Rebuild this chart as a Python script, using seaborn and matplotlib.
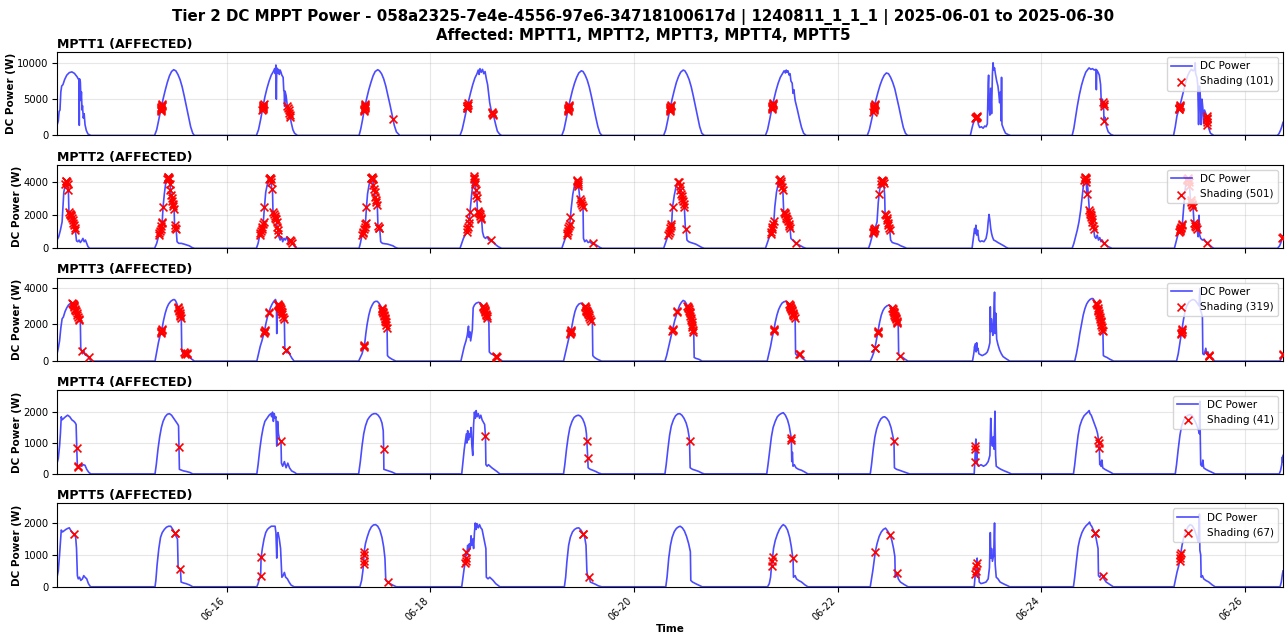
import pandas as pd
import numpy as np
import seaborn as sns
import matplotlib
matplotlib.use("Agg")
import matplotlib.pyplot as plt
import matplotlib.dates as mdates

# channel names, legend counts and titles
channels = ["MPTT1", "MPTT2", "MPTT3", "MPTT4", "MPTT5"]
shading_counts = [101, 501, 319, 41, 67]
title_line1 = "Tier 2 DC MPPT Power - 058a2325-7e4e-4556-97e6-34718100617d | 1240811_1_1_1 | 2025-06-01 to 2025-06-30"
title_line2 = "Affected: MPTT1, MPTT2, MPTT3, MPTT4, MPTT5"

# DC power knots per day: (hour of day, watts)
mptt1_power = {
    "06-14": [(8.0,1400),(8.3,2000),(8.5,3300),(8.7,3500),(8.9,6000),(9.1,6800),(9.4,7000),(9.8,7700),(10.3,8300),(10.9,8650),(11.5,8750),(12.1,8550),(12.7,8100),(13.1,7700),(13.2,7600),(13.25,1400),(13.3,7800),(13.5,7400),(13.65,4800),(13.75,6000),(13.9,3500),(14.0,4100),(14.2,2400),(14.4,3000),(14.6,1500),(14.9,700),(15.3,200),(16.0,0)],
    "06-15": [(7.0,0),(7.5,800),(8.0,2200),(8.5,3700),(9.0,5000),(9.5,6200),(10.0,7300),(10.5,8200),(11.0,8800),(11.5,9050),(12.0,8900),(12.5,8400),(13.0,7700),(13.5,6700),(14.0,5400),(14.5,4000),(15.0,2600),(15.5,1200),(16.0,300),(16.4,0)],
    "06-16": [(7.0,0),(7.5,800),(8.0,2200),(8.5,3800),(9.0,5300),(9.5,6500),(10.0,7500),(10.5,8300),(11.0,8800),(11.3,9200),(11.45,8500),(11.6,9700),(11.7,5000),(11.8,9300),(12.0,8600),(12.2,9100),(12.4,8400),(12.6,9000),(12.8,8700),(13.0,8300),(13.3,8000),(13.45,6200),(13.55,6000),(13.65,4000),(13.75,6100),(14.0,5500),(14.3,4000),(14.6,3500),(14.9,2800),(15.2,1800),(15.6,800),(16.0,300),(16.7,0)],
    "06-17": [(7.2,0),(7.6,900),(8.0,2100),(8.5,3800),(9.0,5100),(9.5,6300),(10.0,7300),(10.5,8200),(11.0,8800),(11.6,9050),(12.0,8900),(12.5,8500),(13.0,7800),(13.5,6800),(14.0,5500),(14.5,4200),(15.0,2800),(15.5,1400),(16.0,500),(16.8,0)],
    "06-18": [(7.0,0),(7.5,800),(8.0,2100),(8.5,3500),(9.0,4700),(9.5,5900),(10.0,7000),(10.5,7900),(11.0,8500),(11.3,9000),(11.5,8400),(11.7,9200),(12.0,8700),(12.3,9100),(12.6,8500),(12.9,8800),(13.2,7800),(13.5,7000),(13.8,5500),(14.0,4500),(14.3,3600),(14.6,3100),(15.0,2500),(15.4,1500),(15.8,600),(16.3,200),(16.8,0)],
    "06-19": [(7.0,0),(7.5,800),(8.0,2200),(8.5,3700),(9.0,5000),(9.5,6200),(10.0,7200),(10.5,8000),(11.0,8600),(11.6,8900),(12.0,8800),(12.5,8300),(13.0,7600),(13.5,6600),(14.0,5300),(14.5,3900),(15.0,2500),(15.5,1200),(16.0,300),(16.5,0)],
    "06-20": [(7.0,0),(7.5,800),(8.0,2200),(8.5,3700),(9.0,5000),(9.5,6200),(10.0,7300),(10.5,8100),(11.0,8700),(11.6,9000),(12.0,8900),(12.5,8400),(13.0,7700),(13.5,6700),(14.0,5400),(14.5,4000),(15.0,2600),(15.5,1200),(16.0,300),(16.6,0)],
    "06-21": [(7.0,0),(7.5,800),(8.0,2200),(8.5,3700),(9.0,5000),(9.5,6200),(10.0,7200),(10.5,8000),(11.0,8500),(11.4,8900),(11.7,8600),(11.9,9000),(12.1,8700),(12.3,8900),(12.6,8300),(12.8,8500),(13.0,7500),(13.3,7200),(13.5,5800),(13.7,6300),(14.0,4800),(14.5,3600),(15.0,2300),(15.5,1100),(16.0,300),(16.6,0)],
    "06-22": [(7.0,0),(7.5,800),(8.0,2100),(8.5,3500),(9.0,4800),(9.5,5900),(10.0,6900),(10.5,7700),(11.0,8300),(11.5,8600),(12.0,8500),(12.5,8000),(13.0,7300),(13.5,6400),(14.0,5100),(14.5,3800),(15.0,2400),(15.5,1100),(16.0,300),(16.5,0)],
    "06-23": [(7.3,0),(7.6,800),(7.9,1500),(8.2,2000),(8.5,2500),(8.8,2600),(9.0,2300),(9.2,1500),(9.5,1100),(9.9,1200),(10.3,1000),(10.7,1300),(11.0,1200),(11.3,1600),(11.5,7000),(11.6,8300),(11.7,4000),(11.9,2800),(12.1,6500),(12.3,3000),(12.5,8500),(12.65,10000),(12.8,9000),(13.0,9300),(13.2,8500),(13.5,7500),(13.8,6800),(14.0,5800),(14.2,4500),(14.4,6000),(14.55,2000),(14.65,8000),(14.75,1500),(15.2,800),(15.6,300),(16.3,100),(16.8,0)],
    "06-24": [(7.3,0),(7.7,1000),(8.1,2500),(8.5,4000),(9.0,5600),(9.5,6900),(10.0,7900),(10.5,8700),(11.0,9100),(11.3,9300),(11.7,9100),(12.1,9200),(12.5,9000),(12.9,9100),(13.0,6300),(13.1,9000),(13.4,8700),(13.7,8300),(14.0,7000),(14.2,4000),(14.4,5000),(14.6,4600),(14.7,4300),(14.8,2000),(15.0,2500),(15.4,1200),(15.8,500),(16.4,150),(17.1,0)],
    "06-25": [(7.2,0),(7.6,1200),(8.0,2700),(8.5,3700),(9.0,4800),(9.5,6000),(10.0,7200),(10.5,8200),(11.0,8800),(11.4,9100),(11.8,8900),(12.1,9000),(12.3,10000),(12.4,8500),(12.7,8000),(12.9,7000),(13.1,1500),(13.3,6800),(13.5,5500),(13.7,1500),(13.9,5000),(14.1,3800),(14.3,1600),(14.5,3500),(14.8,3000),(15.0,2700),(15.2,1500),(15.5,1000),(15.9,300),(16.7,0)],
    "06-26": [(7.6,0),(8.0,200),(8.4,700),(8.7,1200),(9.0,1800)],
}
mptt1_shading = {
    "06-15": [(8.4,3400),(8.45,3550),(8.5,3700),(8.55,3830),(8.6,3960),(8.65,4090),(8.7,4220),(8.75,4350)],
    "06-16": [(8.4,3500),(8.45,3650),(8.5,3800),(8.55,3950),(8.6,4100),(8.65,4250),(8.7,4400),(14.3,4000),(14.45,3750),(14.6,3500),(14.75,3150),(14.9,2800),(15.0,2500)],
    "06-17": [(8.35,3300),(8.4,3500),(8.45,3650),(8.5,3800),(8.55,3950),(8.6,4050),(8.65,4200),(8.7,4350),(15.2,2250)],
    "06-18": [(8.6,3750),(8.65,3850),(8.7,4000),(8.75,4100),(8.8,4250),(8.9,4450),(14.5,3250),(14.6,3100),(14.7,2950),(14.8,2800)],
    "06-19": [(8.4,3400),(8.45,3550),(8.5,3700),(8.55,3830),(8.6,3960),(8.65,4090),(8.7,4220)],
    "06-20": [(8.4,3400),(8.45,3550),(8.5,3700),(8.55,3830),(8.6,3960),(8.65,4090),(8.7,4220)],
    "06-21": [(8.5,3700),(8.55,3830),(8.6,3960),(8.65,4090),(8.7,4220),(8.75,4350),(8.8,4480)],
    "06-22": [(8.4,3200),(8.5,3500),(8.55,3630),(8.6,3760),(8.65,3890),(8.7,4020),(8.75,4150),(8.8,4280)],
    "06-23": [(8.5,2450),(8.6,2550),(8.65,2350),(8.7,2600),(8.75,2700),(8.8,2550)],
    "06-24": [(14.6,4600),(14.7,4300),(14.7,4100),(14.85,2000)],
    "06-25": [(8.45,3600),(8.5,3700),(8.55,3800),(8.6,3900),(8.65,4000),(8.7,4150),(15.0,2700),(15.05,2400),(15.1,2200),(15.15,1900),(15.2,1500)],
}

mptt2_power = {
    "06-14": [(8.0,500),(8.4,700),(8.8,1100),(9.2,1600),(9.4,2500),(9.6,3400),(9.9,3800),(10.2,4050),(10.5,3900),(10.7,3300),(10.8,2300),(11.0,2100),(11.3,2000),(11.6,1800),(11.9,1500),(12.2,1200),(12.4,900),(12.6,450),(12.9,400),(13.2,500),(13.5,350),(13.8,450),(14.1,600),(14.4,400),(14.7,500),(15.0,300),(15.3,100),(15.7,0)],
    "06-15": [(7.0,0),(7.5,300),(8.0,800),(8.5,1200),(8.8,1600),(9.0,2500),(9.3,3300),(9.6,3900),(9.9,4200),(10.2,4350),(10.5,4200),(10.7,3700),(10.9,3200),(11.1,2900),(11.4,2600),(11.6,2400),(11.7,1500),(11.9,1200),(12.1,1100),(12.3,400),(12.7,300),(13.3,300),(14.0,250),(14.6,200),(15.2,150),(15.8,50),(16.4,0)],
    "06-16": [(7.0,0),(7.4,300),(7.8,800),(8.2,1100),(8.6,1500),(8.9,2500),(9.2,3400),(9.6,3900),(10.0,4200),(10.3,4250),(10.5,4000),(10.6,3600),(10.8,3500),(10.9,2300),(11.1,2100),(11.4,1900),(11.7,1700),(11.9,1300),(12.1,1000),(12.3,700),(12.6,500),(12.9,700),(13.2,400),(13.5,600),(13.8,500),(14.2,700),(14.5,400),(14.8,500),(15.2,350),(15.6,300),(16.0,100),(16.6,0)],
    "06-17": [(7.2,0),(7.5,300),(7.9,800),(8.3,1100),(8.7,1500),(8.95,2500),(9.2,3300),(9.6,3900),(9.95,4200),(10.2,4300),(10.45,4200),(10.6,3700),(10.8,3500),(11.0,3100),(11.3,2800),(11.5,2600),(11.65,1400),(11.9,1200),(12.1,1100),(12.3,400),(12.7,300),(13.3,280),(14.0,250),(14.6,200),(15.2,150),(15.8,50),(16.4,0)],
    "06-18": [(7.0,0),(7.4,300),(7.8,600),(8.2,800),(8.6,1000),(8.9,1300),(9.2,1800),(9.5,2600),(9.8,3400),(10.1,4100),(10.3,4400),(10.45,3800),(10.55,4200),(10.7,3500),(10.85,3100),(11.0,2900),(11.1,2300),(11.3,2200),(11.5,2100),(11.8,1900),(12.1,1700),(12.3,1000),(12.6,700),(13.0,600),(13.4,700),(13.8,500),(14.2,500),(14.6,400),(15.0,350),(15.5,200),(16.0,100),(16.8,0)],
    "06-19": [(7.0,0),(7.4,300),(7.8,600),(8.1,800),(8.5,1150),(8.9,1550),(9.2,2400),(9.6,3300),(10.0,3800),(10.4,4050),(10.6,4100),(10.8,3900),(11.0,3600),(11.2,3100),(11.5,2800),(11.8,2600),(12.0,2400),(12.1,600),(12.4,400),(12.8,500),(13.2,350),(13.6,400),(14.0,300),(14.4,300),(14.8,250),(15.4,150),(16.0,50),(16.5,0)],
    "06-20": [(7.0,0),(7.4,300),(7.8,600),(8.1,800),(8.5,1150),(8.9,1550),(9.1,2500),(9.5,3200),(9.9,3700),(10.3,3950),(10.5,4050),(10.7,3900),(10.9,3600),(11.1,3300),(11.3,3100),(11.5,2900),(11.7,2700),(11.9,2400),(12.1,1300),(12.3,1150),(12.5,500),(12.9,400),(13.4,350),(14.0,300),(14.6,250),(15.3,150),(16.0,50),(16.6,0)],
    "06-21": [(7.0,0),(7.4,300),(7.8,600),(8.2,850),(8.6,1250),(9.0,1700),(9.2,2500),(9.6,3400),(10.0,3900),(10.3,4150),(10.5,4200),(10.7,4000),(10.9,3700),(11.1,3500),(11.3,2200),(11.6,2100),(11.9,1900),(12.2,1700),(12.5,1500),(12.8,1200),(13.0,600),(13.4,500),(13.8,400),(14.1,300),(14.6,250),(15.3,150),(16.0,50),(16.6,0)],
    "06-22": [(7.3,0),(7.7,300),(8.1,700),(8.5,1050),(8.9,1250),(9.3,1600),(9.6,2800),(9.9,3500),(10.2,3900),(10.5,4150),(10.7,4100),(10.9,3900),(11.1,3200),(11.2,2100),(11.4,2000),(11.7,1700),(12.0,1400),(12.3,1100),(12.5,500),(12.9,350),(13.5,300),(14.2,250),(14.9,150),(15.6,80),(16.3,0)],
    "06-23": [(7.7,0),(8.0,600),(8.3,1200),(8.5,900),(8.6,1400),(8.8,800),(9.0,1100),(9.3,500),(9.6,400),(10.0,450),(10.5,400),(11.0,600),(11.3,1000),(11.5,1600),(11.7,2050),(11.9,1700),(12.1,1200),(12.3,900),(12.5,700),(12.8,500),(13.2,450),(13.8,350),(14.5,250),(15.2,150),(15.8,50),(16.3,0)],
    "06-24": [(7.3,0),(7.7,300),(8.1,700),(8.5,1100),(8.9,1600),(9.3,2300),(9.7,3200),(10.0,3900),(10.2,4200),(10.4,4300),(10.6,4150),(10.75,3300),(10.85,4000),(11.0,3600),(11.2,2800),(11.35,2300),(11.5,2200),(11.8,1900),(12.1,1500),(12.4,1100),(12.6,700),(12.9,600),(13.2,800),(13.5,500),(13.8,650),(14.1,400),(14.4,500),(14.7,300),(15.2,200),(15.8,100),(16.7,0)],
    "06-25": [(7.4,0),(7.8,400),(8.2,800),(8.5,1000),(8.9,1250),(9.3,1550),(9.6,2500),(9.9,3500),(10.2,4100),(10.5,4250),(10.8,4000),(11.0,3600),(11.2,2900),(11.5,2700),(11.8,2500),(12.0,1600),(12.3,1400),(12.6,1200),(12.8,1050),(13.0,700),(13.2,2000),(13.35,800),(13.6,600),(14.0,500),(14.4,550),(14.8,400),(15.2,350),(15.7,200),(16.2,80),(16.7,0)],
    "06-26": [(7.7,0),(8.2,150),(8.5,350),(8.8,600),(9.0,750)],
}
mptt2_shading = {
    "06-14": [(10.0,3900),(10.1,4050),(10.2,4100),(10.3,4000),(10.5,3900),(10.65,3500),(10.85,2200),(10.95,2100),(11.1,2050),(11.25,2000),(11.4,1950),(11.55,1850),(11.7,1700),(11.85,1550),(12.0,1400),(12.15,1250),(12.3,1100)],
    "06-15": [(8.0,800),(8.15,900),(8.3,1050),(8.45,1150),(8.6,1350),(8.75,1550),(8.85,1600),(9.0,2500),(9.95,4200),(10.05,4250),(10.15,4300),(10.25,4330),(10.35,4280),(10.45,4200),(10.6,3900),(10.75,3550),(10.9,3200),(11.0,3050),(11.15,2850),(11.3,2700),(11.45,2550),(11.6,2400),(11.75,1400),(11.85,1250),(11.95,1150)],
    "06-16": [(7.8,800),(7.95,900),(8.1,1050),(8.25,1150),(8.4,1300),(8.55,1450),(8.7,1600),(8.9,2500),(10.0,4200),(10.1,4230),(10.2,4240),(10.35,4200),(10.5,4000),(10.6,3600),(11.0,2200),(11.15,2100),(11.3,1950),(11.45,1850),(11.6,1750),(11.75,1600),(11.9,1300),(12.05,1100),(12.2,850),(14.9,480),(15.1,420),(15.3,350)],
    "06-17": [(7.9,800),(8.05,900),(8.2,1000),(8.35,1150),(8.5,1300),(8.65,1450),(8.75,1550),(8.95,2500),(10.0,4230),(10.1,4280),(10.2,4300),(10.3,4260),(10.4,4220),(10.55,3850),(10.7,3600),(10.85,3400),(11.0,3100),(11.15,2950),(11.3,2800),(11.45,2650),(11.7,1350),(11.8,1250),(11.9,1200)],
    "06-18": [(8.6,1000),(8.75,1150),(8.9,1300),(9.05,1550),(9.2,1800),(9.35,2200),(10.2,4250),(10.3,4400),(10.3,4200),(10.5,4000),(10.6,3900),(10.7,3500),(10.8,3250),(10.9,3050),(11.15,2250),(11.3,2200),(11.45,2120),(11.6,2050),(11.75,1950),(11.9,1850),(12.05,1750),(14.2,500)],
    "06-19": [(8.1,800),(8.25,950),(8.4,1050),(8.55,1200),(8.7,1350),(8.85,1500),(9.0,1900),(10.5,4100),(10.6,4120),(10.7,4000),(10.8,3900),(10.9,3750),(11.3,3000),(11.45,2850),(11.6,2750),(11.75,2650),(11.9,2500),(14.4,300)],
    "06-20": [(8.1,800),(8.25,950),(8.4,1050),(8.55,1200),(8.7,1350),(8.85,1500),(9.1,2500),(10.4,4000),(10.6,4000),(10.8,3750),(10.95,3500),(11.1,3300),(11.25,3150),(11.4,3000),(11.55,2850),(11.7,2700),(11.85,2500),(12.3,1150)],
    "06-21": [(8.2,850),(8.35,1000),(8.5,1150),(8.65,1300),(8.8,1450),(8.95,1650),(10.3,4150),(10.45,4200),(10.6,4100),(10.75,3950),(10.9,3700),(11.05,3550),(11.35,2200),(11.5,2150),(11.65,2050),(11.8,1950),(11.95,1850),(12.1,1750),(12.3,1650),(12.45,1500),(12.6,1350),(12.75,1250),(14.1,300)],
    "06-22": [(8.3,900),(8.4,1000),(8.5,1050),(8.6,1100),(8.7,1150),(8.8,1200),(9.7,3300),(10.2,3900),(10.35,4050),(10.5,4150),(10.6,4100),(10.75,4050),(10.85,3950),(11.25,2050),(11.4,2000),(11.55,1850),(11.7,1700),(11.85,1550),(12.0,1400),(12.15,1250),(12.3,1100)],
    "06-24": [(10.15,4150),(10.25,4250),(10.35,4300),(10.45,4250),(10.55,4200),(10.65,4000),(10.75,3300),(11.35,2300),(11.45,2200),(11.55,2100),(11.65,2000),(11.75,1900),(11.9,1750),(12.05,1600),(12.2,1350),(12.35,1150),(14.7,300)],
    "06-25": [(8.5,1000),(8.6,1060),(8.7,1120),(8.8,1190),(8.9,1250),(9.0,1320),(9.1,1400),(9.2,1480),(10.3,4150),(10.4,4200),(10.5,4250),(10.65,4120),(10.8,4000),(10.9,3800),(11.2,2900),(11.35,2800),(11.5,2700),(11.65,2600),(11.8,2500),(12.05,1550),(12.2,1470),(12.35,1380),(12.5,1270),(12.65,1150),(15.2,350)],
    "06-26": [(8.8,600),(9.0,700)],
}

mptt3_power = {
    "06-14": [(8.0,400),(8.3,700),(8.6,1100),(8.9,1800),(9.2,2300),(9.5,2400),(9.9,2700),(10.3,2900),(10.7,3050),(11.2,3150),(11.6,3150),(12.0,3050),(12.4,2800),(12.8,2500),(13.2,2300),(13.5,2100),(13.6,700),(13.8,550),(14.0,400),(14.3,600),(14.6,350),(15.0,300),(15.5,200),(16.0,0)],
    "06-15": [(7.1,0),(7.5,500),(7.9,1000),(8.3,1400),(8.7,1700),(9.1,2200),(9.5,2600),(9.9,2900),(10.3,3100),(10.8,3250),(11.3,3330),(11.6,3350),(11.9,3300),(12.2,3150),(12.5,2950),(12.8,2700),(13.1,2450),(13.3,2250),(13.4,600),(13.7,400),(14.0,500),(14.3,350),(14.6,450),(14.9,300),(15.3,200),(15.8,100),(16.4,0)],
    "06-16": [(7.1,0),(7.5,400),(7.9,800),(8.3,1100),(8.7,1450),(8.9,1600),(9.2,2000),(9.6,2400),(9.9,2600),(10.3,2900),(10.7,3100),(11.1,3250),(11.5,3350),(11.7,3200),(11.8,1500),(11.9,3100),(12.2,3050),(12.5,2950),(12.8,2750),(13.1,2550),(13.4,2300),(13.6,2100),(13.7,700),(14.0,600),(14.2,450),(14.5,550),(14.9,350),(15.4,150),(15.9,0)],
    "06-17": [(7.1,0),(7.5,200),(7.9,400),(8.2,650),(8.5,900),(8.8,1500),(9.1,2000),(9.5,2500),(9.9,2850),(10.3,3050),(10.7,3200),(11.1,3250),(11.5,3250),(11.9,3150),(12.3,3000),(12.7,2750),(13.1,2450),(13.5,2100),(13.8,1800),(13.9,300),(14.3,200),(15.0,100),(15.9,0)],
    "06-18": [(7.2,0),(7.6,400),(8.0,800),(8.4,1100),(8.7,1400),(9.0,1900),(9.1,1300),(9.3,1600),(9.5,1100),(9.7,1400),(9.9,1700),(10.1,2900),(10.4,3050),(10.8,3150),(11.4,3200),(11.8,3150),(12.2,3050),(12.6,2900),(13.0,2650),(13.4,2350),(13.8,2100),(13.9,500),(14.3,400),(14.8,350),(15.2,300),(15.5,250),(16.1,150),(17.0,0)],
    "06-19": [(7.4,0),(7.8,400),(8.2,800),(8.6,1200),(9.0,1550),(9.3,1800),(9.7,2300),(10.1,2700),(10.5,2950),(11.0,3100),(11.5,3150),(11.9,3100),(12.3,3000),(12.7,2800),(13.1,2600),(13.5,2400),(13.9,2200),(14.2,2100),(14.3,300),(14.7,200),(15.4,100),(16.4,0)],
    "06-20": [(7.3,0),(7.7,300),(8.1,700),(8.5,1100),(8.9,1500),(9.2,1800),(9.6,2200),(10.0,2500),(10.4,2800),(10.8,3050),(11.2,3200),(11.6,3300),(12.0,3250),(12.4,3100),(12.8,2900),(13.2,2600),(13.6,2100),(13.9,1700),(14.1,1450),(14.2,200),(14.6,150),(15.3,100),(16.1,0)],
    "06-21": [(7.4,0),(7.8,400),(8.2,800),(8.6,1300),(9.0,1700),(9.3,2100),(9.7,2500),(10.1,2800),(10.5,3000),(10.9,3150),(11.3,3220),(11.7,3250),(12.1,3200),(12.5,3120),(12.9,2950),(13.3,2700),(13.7,2450),(14.0,2250),(14.1,400),(14.5,300),(14.8,450),(15.0,400),(15.5,200),(16.0,100),(16.6,0)],
    "06-22": [(7.7,0),(8.1,200),(8.5,450),(8.8,700),(9.2,1200),(9.5,1600),(9.9,2100),(10.3,2500),(10.7,2750),(11.1,2900),(11.6,3000),(12.1,3050),(12.5,3000),(12.9,2850),(13.3,2600),(13.7,2350),(14.1,2050),(14.3,1900),(14.4,350),(14.7,300),(15.1,250),(15.8,120),(16.6,0)],
    "06-23": [(7.8,0),(8.1,400),(8.3,800),(8.4,600),(8.5,950),(8.65,500),(8.8,1000),(8.95,600),(9.1,700),(9.3,400),(9.7,350),(10.1,300),(10.5,350),(10.9,400),(11.3,500),(11.6,700),(11.9,1000),(12.0,2950),(12.1,1600),(12.25,2300),(12.4,1800),(12.6,1400),(12.8,2400),(13.0,3750),(13.15,1500),(13.3,2600),(13.5,1200),(13.8,900),(14.2,600),(14.6,400),(15.0,250),(15.6,150),(16.6,0)],
    "06-24": [(7.9,0),(8.3,400),(8.7,900),(9.1,1500),(9.5,2000),(9.9,2500),(10.3,2850),(10.7,3100),(11.1,3250),(11.5,3350),(11.9,3400),(12.2,3400),(12.5,3300),(12.9,3150),(13.3,2900),(13.7,2500),(14.1,2100),(14.4,1700),(14.55,1600),(14.65,300),(15.0,250),(15.5,200),(16.2,100),(17.1,0)],
    "06-25": [(7.9,0),(8.3,400),(8.7,1000),(9.1,1600),(9.5,2200),(9.9,2700),(10.3,3000),(10.8,3200),(11.3,3300),(11.8,3350),(12.3,3300),(12.8,3150),(13.2,3000),(13.4,3950),(13.5,2800),(13.8,2600),(14.0,2400),(14.1,400),(14.4,350),(14.8,700),(15.0,400),(15.3,500),(15.6,300),(16.2,150),(17.0,0)],
    "06-26": [(8.3,0),(8.7,200),(9.0,400)],
}
mptt3_shading = {
    "06-14": [(11.6,3150),(11.7,3120),(11.8,3080),(11.9,3030),(12.0,3000),(12.1,2950),(12.2,2850),(12.3,2800),(12.45,2700),(12.6,2600),(12.75,2500),(12.9,2400),(13.1,2300),(13.3,2250),(13.8,550),(15.6,250)],
    "06-15": [(8.5,1550),(8.55,1600),(8.6,1650),(8.65,1700),(8.7,1750),(12.5,2950),(12.6,2870),(12.7,2780),(12.8,2700),(12.9,2620),(13.0,2530),(13.1,2450),(13.2,2350),(14.0,500),(14.1,450),(14.2,400),(14.6,450),(14.7,400)],
    "06-16": [(8.85,1550),(8.9,1600),(8.95,1650),(9.0,1700),(9.9,2600),(9.95,2650),(12.0,3080),(12.1,3060),(12.2,3050),(12.3,3020),(12.4,2980),(12.5,2950),(12.6,2880),(12.7,2820),(12.8,2750),(12.95,2650),(13.1,2550),(13.25,2420),(13.4,2300),(14.0,600),(14.05,580)],
    "06-17": [(8.35,780),(8.4,820),(8.45,860),(12.5,2880),(12.6,2820),(12.7,2750),(12.8,2680),(12.9,2600),(13.0,2520),(13.1,2450),(13.2,2360),(13.3,2270),(13.4,2180),(13.5,2100),(13.65,1950),(13.8,1800)],
    "06-18": [(12.4,3000),(12.5,2950),(12.6,2900),(12.7,2830),(12.8,2770),(12.9,2710),(13.0,2650),(13.1,2570),(13.2,2500),(13.3,2430),(13.4,2350),(15.4,270),(15.5,250),(15.6,240)],
    "06-19": [(8.95,1500),(9.0,1550),(9.05,1600),(9.1,1650),(9.15,1700),(12.4,3000),(12.5,2950),(12.6,2900),(12.7,2800),(12.8,2750),(12.9,2700),(13.0,2650),(13.1,2600),(13.2,2550),(13.3,2500),(13.5,2400),(13.7,2300),(13.9,2200)],
    "06-20": [(9.05,1650),(9.1,1700),(9.15,1750),(10.2,2650),(10.25,2700),(12.6,3000),(12.7,2950),(12.8,2900),(12.9,2830),(13.0,2750),(13.1,2680),(13.2,2600),(13.3,2480),(13.4,2350),(13.5,2230),(13.6,2100),(13.7,1970),(13.8,1830),(13.9,1700),(14.0,1580)],
    "06-21": [(8.95,1650),(9.0,1700),(9.05,1750),(12.6,3100),(12.7,3050),(12.8,3000),(12.9,2950),(13.0,2880),(13.1,2820),(13.2,2760),(13.3,2700),(13.4,2640),(13.5,2580),(13.6,2510),(13.7,2450),(13.85,2350),(15.0,400),(15.05,380)],
    "06-22": [(8.8,700),(8.85,740),(9.45,1550),(9.5,1600),(9.55,1650),(12.9,2900),(13.0,2820),(13.1,2730),(13.2,2650),(13.3,2600),(13.4,2530),(13.5,2470),(13.6,2410),(13.7,2350),(13.8,2280),(13.9,2200),(14.0,2130),(14.1,2050),(14.6,300)],
    "06-24": [(13.0,3180),(13.1,3120),(13.2,3060),(13.3,2900),(13.4,2800),(13.5,2700),(13.6,2600),(13.7,2500),(13.8,2400),(13.9,2300),(14.0,2200),(14.1,2100),(14.2,1970),(14.3,1830),(14.4,1700),(14.5,1630)],
    "06-25": [(9.0,1450),(9.05,1520),(9.1,1600),(9.15,1680),(9.2,1750),(15.5,350),(15.6,300),(15.65,280)],
    "06-26": [(8.9,350),(9.0,400)],
}

mptt4_power = {
    "06-14": [(8.0,350),(8.3,500),(8.6,900),(8.8,1300),(9.0,1850),(9.2,1750),(9.6,1800),(10.0,1850),(10.5,1900),(11.0,1850),(11.5,1750),(12.0,1700),(12.3,1650),(12.5,1600),(12.65,850),(12.8,250),(13.1,200),(13.4,300),(13.8,250),(14.2,300),(14.6,280),(15.0,150),(15.5,50),(16.0,0)],
    "06-15": [(7.1,0),(7.4,300),(7.8,800),(8.2,1200),(8.6,1500),(9.0,1700),(9.5,1850),(10.0,1930),(10.5,1950),(11.0,1900),(11.5,1800),(12.0,1700),(12.5,1600),(12.65,1550),(12.75,880),(12.85,150),(13.2,130),(13.8,100),(14.5,80),(15.3,50),(16.0,0)],
    "06-16": [(7.1,0),(7.4,300),(7.8,800),(8.2,1200),(8.6,1500),(9.0,1700),(9.5,1800),(10.0,1900),(10.4,1950),(10.6,1850),(10.8,2000),(11.0,1700),(11.2,1950),(11.4,1800),(11.6,1850),(11.8,900),(12.0,1700),(12.2,1300),(12.5,1100),(12.8,1050),(12.9,350),(13.2,250),(13.6,400),(14.0,200),(14.4,350),(14.8,200),(15.3,100),(16.0,50),(16.5,0)],
    "06-17": [(7.1,0),(7.5,400),(7.9,900),(8.3,1300),(8.7,1550),(9.2,1750),(9.7,1850),(10.2,1920),(10.7,1950),(11.2,1950),(11.7,1900),(12.2,1800),(12.6,1650),(12.9,1400),(13.0,800),(13.05,150),(13.5,130),(14.2,100),(15.0,60),(15.9,0)],
    "06-18": [(7.4,0),(7.7,400),(8.0,800),(8.3,1100),(8.5,1300),(8.6,1000),(8.8,1400),(9.0,1100),(9.2,1300),(9.4,1200),(9.6,1500),(9.8,900),(10.0,600),(10.2,1600),(10.4,2000),(10.6,1800),(10.8,2050),(11.0,1850),(11.3,1950),(11.6,1800),(11.9,1900),(12.2,1750),(12.6,1650),(12.8,1600),(13.0,1220),(13.1,300),(13.4,250),(13.7,300),(14.1,250),(14.5,200),(15.0,150),(15.7,80),(16.4,0)],
    "06-19": [(7.4,0),(7.7,300),(8.1,800),(8.5,1200),(8.9,1500),(9.4,1700),(9.9,1830),(10.4,1880),(10.9,1900),(11.4,1870),(11.9,1780),(12.3,1650),(12.6,1500),(12.8,1300),(12.9,1050),(13.0,800),(13.1,530),(13.2,200),(13.7,150),(14.3,120),(15.0,80),(15.7,30),(16.4,0)],
    "06-20": [(7.3,0),(7.6,300),(8.0,800),(8.4,1250),(8.8,1550),(9.3,1750),(9.8,1880),(10.3,1940),(10.8,1950),(11.3,1900),(11.8,1800),(12.3,1650),(12.7,1450),(13.0,1200),(13.1,1050),(13.25,200),(13.8,150),(14.5,120),(15.3,80),(16.0,30),(16.6,0)],
    "06-21": [(7.3,0),(7.6,300),(8.0,750),(8.4,1200),(8.8,1500),(9.3,1700),(9.8,1850),(10.3,1920),(10.8,1960),(11.2,1980),(11.7,1900),(12.2,1750),(12.6,1550),(12.9,1300),(13.1,1150),(13.2,400),(13.35,700),(13.5,250),(13.8,300),(14.2,200),(14.8,150),(15.5,120),(16.3,60),(17.0,0)],
    "06-22": [(7.7,0),(8.0,300),(8.4,800),(8.8,1200),(9.2,1450),(9.7,1650),(10.2,1780),(10.7,1840),(11.1,1850),(11.6,1800),(12.1,1700),(12.6,1500),(13.0,1250),(13.3,1050),(13.4,200),(13.9,150),(14.6,120),(15.4,80),(16.2,40),(17.0,0)],
    "06-23": [(8.2,0),(8.35,400),(8.45,800),(8.5,900),(8.6,1130),(8.7,400),(8.8,800),(8.9,350),(9.2,250),(9.8,300),(10.4,250),(11.0,300),(11.5,400),(11.9,600),(12.1,1800),(12.3,1100),(12.5,900),(12.7,1200),(12.9,800),(13.1,2030),(13.25,600),(13.4,250),(13.9,200),(14.5,150),(15.3,100),(16.2,50),(17.0,0)],
    "06-24": [(7.6,0),(7.9,300),(8.3,800),(8.7,1250),(9.1,1550),(9.6,1750),(10.1,1880),(10.6,1950),(11.0,2000),(11.3,2050),(11.5,1950),(11.8,1900),(12.2,1750),(12.6,1600),(13.0,1450),(13.3,1300),(13.5,1100),(13.6,1000),(13.7,850),(13.8,300),(14.0,400),(14.1,250),(14.3,450),(14.5,200),(15.0,150),(15.7,100),(16.4,50),(17.0,0)],
    "06-25": [(7.6,0),(7.9,300),(8.3,800),(8.7,1250),(9.1,1550),(9.6,1750),(10.1,1850),(10.6,1900),(11.1,1920),(11.6,1880),(12.1,1750),(12.6,1600),(13.0,1450),(13.3,1300),(13.4,2350),(13.5,1150),(13.6,300),(13.9,250),(14.1,450),(14.3,200),(14.8,150),(15.5,100),(16.3,50),(17.0,0)],
    "06-26": [(8.1,0),(8.4,100),(8.7,300),(8.85,550),(8.95,400),(9.0,600)],
}
mptt4_shading = {
    "06-14": [(12.65,850),(12.9,230),(13.0,250)],
    "06-15": [(12.75,880)],
    "06-16": [(12.8,1050)],
    "06-17": [(13.0,800)],
    "06-18": [(13.0,1220)],
    "06-19": [(12.9,1050),(13.1,530)],
    "06-20": [(13.1,1050)],
    "06-21": [(13.1,1150),(13.12,1100)],
    "06-22": [(13.3,1050)],
    "06-23": [(8.35,400),(8.45,800),(8.5,900)],
    "06-24": [(13.5,1100),(13.6,1000),(13.7,850)],
}

mptt5_power = {
    "06-14": [(8.0,300),(8.3,500),(8.6,1000),(8.8,1400),(9.0,1780),(9.3,1720),(9.7,1760),(10.1,1800),(10.5,1830),(10.9,1850),(11.2,1780),(11.6,1700),(12.0,1650),(12.4,1550),(12.6,1200),(12.8,350),(13.0,250),(13.3,300),(13.6,200),(14.0,250),(14.3,350),(14.6,300),(15.0,250),(15.4,100),(15.9,0)],
    "06-15": [(7.1,0),(7.3,200),(7.6,700),(8.0,1200),(8.4,1550),(8.8,1700),(9.3,1800),(9.8,1870),(10.3,1900),(10.8,1900),(11.3,1800),(11.7,1700),(12.0,1600),(12.4,1500),(12.55,600),(13.1,550),(13.25,150),(13.8,120),(14.4,100),(15.2,60),(16.0,0)],
    "06-16": [(7.1,0),(7.4,100),(7.7,250),(8.0,350),(8.1,900),(8.4,1200),(8.8,1500),(9.2,1700),(9.6,1800),(10.0,1850),(10.5,1900),(11.0,1900),(11.4,1900),(11.6,1700),(11.8,900),(11.9,1600),(12.1,1700),(12.4,1500),(12.7,1200),(12.9,600),(13.0,300),(13.3,350),(13.6,450),(13.9,300),(14.3,250),(14.7,150),(15.2,50),(15.9,0)],
    "06-17": [(7.4,0),(7.8,200),(8.1,500),(8.2,650),(8.25,700),(8.3,800),(8.35,1000),(8.4,1100),(8.7,1350),(9.1,1550),(9.6,1750),(10.1,1880),(10.6,1940),(11.1,1950),(11.6,1900),(12.1,1780),(12.6,1550),(13.0,1250),(13.3,900),(13.5,200),(13.9,150),(14.5,100),(15.2,50),(16.0,0)],
    "06-18": [(7.4,0),(7.7,300),(8.0,600),(8.25,750),(8.3,800),(8.35,900),(8.4,1100),(8.6,1000),(8.8,1300),(9.0,1100),(9.2,1350),(9.4,1200),(9.6,1600),(9.8,1300),(10.0,1500),(10.2,1200),(10.4,1700),(10.6,2000),(10.8,1800),(11.0,1980),(11.3,1850),(11.6,1950),(11.9,1850),(12.2,1800),(12.5,1600),(12.8,1400),(13.1,1200),(13.2,300),(13.6,250),(14.0,300),(14.4,250),(14.8,200),(15.4,100),(16.4,0)],
    "06-19": [(7.6,0),(7.9,300),(8.2,800),(8.6,1300),(9.0,1550),(9.5,1720),(10.0,1800),(10.5,1840),(11.0,1850),(11.5,1780),(12.0,1670),(12.4,1550),(12.7,1300),(12.9,500),(13.1,300),(13.5,300),(13.7,150),(14.2,120),(14.9,80),(15.6,30),(16.4,0)],
    "06-20": [(7.5,0),(7.8,300),(8.2,900),(8.6,1300),(9.0,1550),(9.5,1730),(10.0,1830),(10.5,1880),(10.9,1900),(11.4,1850),(11.9,1750),(12.4,1580),(12.9,1350),(13.3,1100),(13.4,200),(13.8,150),(14.5,100),(15.3,50),(16.1,0)],
    "06-21": [(7.5,0),(7.9,100),(8.2,300),(8.4,600),(8.5,650),(8.6,800),(8.7,950),(8.9,1200),(9.3,1450),(9.8,1650),(10.3,1800),(10.8,1900),(11.2,1950),(11.7,1900),(12.2,1780),(12.7,1550),(13.1,1250),(13.4,950),(13.5,900),(13.6,300),(14.0,350),(14.3,250),(14.8,200),(15.5,150),(16.3,60),(17.0,0)],
    "06-22": [(7.7,0),(8.0,250),(8.3,500),(8.6,800),(8.9,1100),(9.3,1350),(9.8,1580),(10.3,1720),(10.8,1800),(11.3,1840),(11.8,1750),(12.2,1660),(12.4,1630),(12.8,1450),(13.2,1200),(13.5,950),(13.6,300),(13.9,350),(14.1,420),(14.3,250),(14.8,150),(15.6,80),(16.6,0)],
    "06-23": [(8.2,0),(8.4,300),(8.5,400),(8.6,500),(8.7,650),(8.8,750),(8.9,900),(9.0,300),(9.2,500),(9.4,150),(9.8,100),(10.4,120),(11.0,150),(11.5,250),(11.8,600),(12.0,1700),(12.15,900),(12.3,1200),(12.5,800),(12.8,1000),(13.0,2000),(13.15,700),(13.4,300),(13.8,250),(14.3,150),(15.0,100),(15.8,50),(16.6,0)],
    "06-24": [(7.6,0),(7.9,300),(8.3,800),(8.7,1250),(9.1,1500),(9.6,1700),(10.1,1830),(10.6,1920),(11.1,1980),(11.4,2030),(11.6,1950),(11.9,1900),(12.3,1780),(12.6,1700),(12.9,1550),(13.2,1350),(13.4,1200),(13.5,350),(13.8,300),(14.2,400),(14.5,350),(14.8,250),(15.3,150),(16.1,80),(17.0,0)],
    "06-25": [(7.3,0),(7.6,200),(8.0,450),(8.4,650),(8.6,800),(8.7,900),(8.8,1000),(8.9,1050),(9.2,1300),(9.6,1550),(10.1,1750),(10.6,1880),(11.1,1950),(11.6,1920),(12.1,1800),(12.6,1600),(13.0,1400),(13.3,2280),(13.4,1150),(13.6,1000),(13.7,300),(14.0,350),(14.3,250),(14.8,200),(15.5,150),(16.3,60),(17.0,0)],
    "06-26": [(8.3,0),(8.6,150),(8.8,350),(9.0,500)],
}
mptt5_shading = {
    "06-14": [(11.9,1650)],
    "06-15": [(11.7,1700),(11.75,1690),(13.1,550)],
    "06-16": [(8.0,330),(8.1,920)],
    "06-17": [(8.25,700),(8.3,800),(8.35,1000),(8.4,1100),(14.0,140)],
    "06-18": [(8.25,750),(8.3,800),(8.35,900),(8.4,1100)],
    "06-19": [(12.0,1670),(12.05,1660),(13.5,300)],
    "06-21": [(8.5,650),(8.6,800),(8.7,950),(13.5,900)],
    "06-22": [(8.9,1100),(12.4,1630),(14.1,420)],
    "06-23": [(8.5,400),(8.6,500),(8.7,650),(8.8,750)],
    "06-24": [(12.6,1700),(12.65,1690),(14.5,350)],
    "06-25": [(8.6,800),(8.7,900),(8.8,1000),(8.9,1050)],
}

power_tables = [mptt1_power, mptt2_power, mptt3_power, mptt4_power, mptt5_power]
shading_tables = [mptt1_shading, mptt2_shading, mptt3_shading, mptt4_shading, mptt5_shading]


def to_frame(table):
    # day -> [(hour, watts)] into a timestamp frame
    rows = []
    for day, pts in table.items():
        base = pd.Timestamp("2025-" + day)
        for h, w in pts:
            rows.append((base + pd.Timedelta(hours=h), w))
    return pd.DataFrame(rows, columns=["time", "power"]).sort_values("time")


fig, axes = plt.subplots(5, 1, figsize=(12.87, 6.33), dpi=100, sharex=True)
fig.subplots_adjust(left=0.0443, right=0.9969, top=0.918, bottom=0.073, hspace=0.35)

for i, ax in enumerate(axes):
    pw = to_frame(power_tables[i])
    sh = to_frame(shading_tables[i])
    sns.lineplot(data=pw, x="time", y="power", ax=ax, color="blue", alpha=0.7,
                 linewidth=1.2, label="DC Power", estimator=None)
    sns.scatterplot(data=sh, x="time", y="power", ax=ax, marker="x", color="red",
                    s=32, linewidth=1.2, label=f"Shading ({shading_counts[i]})", zorder=5)
    ax.set_ylim(0, pw["power"].max() * 1.15)
    ax.set_title(f"{channels[i]} (AFFECTED)", loc="left", fontsize=9, fontweight="bold", pad=3)
    ax.set_ylabel("DC Power (W)", fontsize=7.5, fontweight="bold", labelpad=1)
    ax.set_xlabel("")
    ax.grid(True, alpha=0.3)
    ax.tick_params(labelsize=7.2, pad=2.5)
    ax.legend(loc="upper right", fontsize=7.5, framealpha=0.8)

# all rows share the same time range
xmin = min(to_frame(t)["time"].min() for t in power_tables)
xmax = max(to_frame(t)["time"].max() for t in power_tables)
axes[-1].set_xlim(xmin, xmax)
axes[-1].xaxis.set_major_locator(mdates.DayLocator(bymonthday=list(range(2, 31, 2))))
axes[-1].xaxis.set_major_formatter(mdates.DateFormatter("%m-%d"))
plt.setp(axes[-1].get_xticklabels(), rotation=45, ha="right", fontsize=7)
axes[-1].set_xlabel("Time", fontsize=7.5, fontweight="bold", labelpad=1)

fig.suptitle(title_line1 + "\n" + title_line2, fontsize=10.8, fontweight="bold", y=0.985)

plt.savefig("out.png", dpi=100)
